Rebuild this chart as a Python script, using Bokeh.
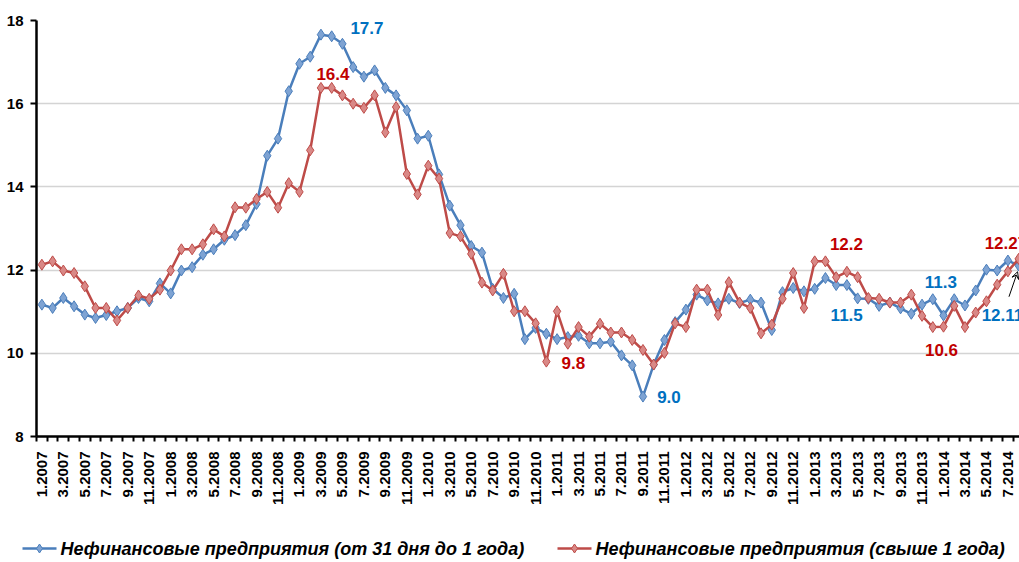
import math
from bokeh.plotting import figure
from bokeh.models import (Range1d, FixedTicker, ColumnDataSource, Arrow, VeeHead)
from bokeh.core.properties import value
from bokeh.embed import file_html
from bokeh.resources import INLINE

# ---------------- data ----------------
months = [f"{m}.{y}" for y in range(2007, 2015) for m in range(1, 13)][:92]

short_term = [
    11.17, 11.09, 11.33, 11.13, 10.93, 10.85, 10.92, 11.01, 11.09, 11.33, 11.25, 11.68,
    11.44, 11.99, 12.07, 12.37, 12.50, 12.73, 12.84, 13.08, 13.59, 14.75, 15.16, 16.30,
    16.96, 17.13, 17.66, 17.62, 17.44, 16.88, 16.65, 16.80, 16.38, 16.20, 15.84, 15.16,
    15.23, 14.30, 13.55, 13.08, 12.58, 12.42, 11.55, 11.33, 11.43, 10.34, 10.61, 10.47,
    10.34, 10.39, 10.42, 10.24, 10.24, 10.28, 9.95, 9.71, 8.96, 9.73, 10.32, 10.75,
    11.05, 11.41, 11.27, 11.20, 11.31, 11.21, 11.29, 11.22, 10.56, 11.47, 11.57, 11.49,
    11.55, 11.81, 11.64, 11.64, 11.32, 11.31, 11.14, 11.22, 11.08, 10.95, 11.17, 11.30,
    10.91, 11.30, 11.15, 11.51, 12.01, 11.99, 12.23, 12.11,
]

long_term = [
    12.13, 12.21, 11.99, 11.93, 11.61, 11.09, 11.09, 10.79, 11.09, 11.39, 11.31, 11.53,
    11.99, 12.50, 12.50, 12.62, 12.98, 12.81, 13.51, 13.50, 13.71, 13.88, 13.50, 14.09,
    13.88, 14.88, 16.38, 16.38, 16.20, 16.00, 15.90, 16.20, 15.31, 15.92, 14.31, 13.82,
    14.51, 14.20, 12.89, 12.81, 12.39, 11.70, 11.51, 11.91, 11.01, 11.01, 10.72, 9.80,
    11.01, 10.23, 10.63, 10.40, 10.71, 10.50, 10.50, 10.32, 10.08, 9.73, 10.01, 10.72,
    10.63, 11.53, 11.53, 10.92, 11.71, 11.22, 11.09, 10.48, 10.69, 11.31, 11.93, 11.09,
    12.21, 12.21, 11.83, 11.96, 11.83, 11.33, 11.31, 11.22, 11.22, 11.41, 10.90, 10.63,
    10.64, 11.14, 10.63, 10.98, 11.25, 11.65, 11.97, 12.27,
]

series_names = ["Нефинансовые предприятия (от 31 дня до 1 года)",
                "Нефинансовые предприятия (свыше 1 года)"]

# data labels: (series, index, text)
label_series = ["short", "long", "long", "short", "long", "short", "short", "long", "long", "short"]
label_index = [26, 26, 47, 56, 73, 72, 83, 84, 91, 91]
label_text = ["17.7", "16.4", "9.8", "9.0", "12.2", "11.5", "11.3", "10.6", "12.27", "12.11"]

# ---------------- styles ----------------
label_dx = [46, 12, 27, 26, 21, 32, 8, -2, -34, -37]
label_dy = [-7, -14, 1, 0, -17, 26, -17, 23, -16, 49]
label_align = ["center"] * 8 + ["left", "left"]

BLUE_LINE, BLUE_FILL, BLUE_TXT = "#4A7EBB", "#7EA3D3", "#0070C0"
RED_LINE, RED_FILL, RED_TXT = "#BE4B48", "#D98886", "#C00000"
FONT = "Liberation Sans"

n = len(months)
xs = list(range(n))

p = figure(frame_width=983, frame_height=416,
           x_range=Range1d(-0.5, n - 0.92), y_range=Range1d(8, 18),
           output_backend="svg", toolbar_location=None,
           min_border_left=36, min_border_right=0, min_border_top=20, min_border_bottom=90)
p.outline_line_color = None
p.background_fill_color = "white"

# grid
p.xgrid.grid_line_color = None
p.ygrid.grid_line_color = "#D4D4D4"
p.ygrid.grid_line_width = 1.6

# y axis
p.yaxis.ticker = FixedTicker(ticks=[8, 10, 12, 14, 16, 18])
p.yaxis.axis_line_color = "black"
p.yaxis.axis_line_width = 2.5
p.yaxis.major_tick_out = 6
p.yaxis.major_tick_in = 0
p.yaxis.major_tick_line_width = 2
p.yaxis.minor_tick_line_color = None
p.yaxis.major_label_text_font = FONT
p.yaxis.major_label_text_font_style = "bold"
p.yaxis.major_label_text_font_size = "15px"
p.yaxis.major_label_text_color = "black"
p.yaxis.major_label_standoff = 7

# x axis
p.xaxis.ticker = FixedTicker(ticks=xs[::2], minor_ticks=[i - 0.5 for i in range(n + 1)])
p.xaxis.major_label_overrides = {i: months[i] for i in xs[::2]}
p.xaxis.major_label_orientation = math.pi / 2
p.xaxis.axis_line_color = "black"
p.xaxis.axis_line_width = 2.5
p.xaxis.major_tick_out = 0
p.xaxis.major_tick_in = 0
p.xaxis.minor_tick_out = 5
p.xaxis.minor_tick_in = 0
p.xaxis.minor_tick_line_width = 2
p.xaxis.minor_tick_line_color = "black"
p.xaxis.major_label_text_font = FONT
p.xaxis.major_label_text_font_style = "bold"
p.xaxis.major_label_text_font_size = "15px"
p.xaxis.major_label_text_color = "black"
p.xaxis.major_label_standoff = 10

# series
src = ColumnDataSource(dict(x=xs, short=short_term, long=long_term))
p.line("x", "short", source=src, line_color=BLUE_LINE, line_width=2.5)
p.scatter("x", "short", source=src, marker="diamond", size=11,
          fill_color=BLUE_FILL, line_color=BLUE_LINE, line_width=1)
p.line("x", "long", source=src, line_color=RED_LINE, line_width=2.5)
p.scatter("x", "long", source=src, marker="diamond", size=11,
          fill_color=RED_FILL, line_color=RED_LINE, line_width=1)

# data labels
series_map = {"short": short_term, "long": long_term}
lab_src = ColumnDataSource(dict(
    x=label_index,
    y=[series_map[s][i] for s, i in zip(label_series, label_index)],
    text=label_text,
    color=[BLUE_TXT if s == "short" else RED_TXT for s in label_series],
    dx=label_dx, dy=label_dy, align=label_align,
))
p.text("x", "y", text="text", source=lab_src, text_color="color",
       x_offset="dx", y_offset="dy", text_align="align", text_baseline="middle",
       text_font=value(FONT), text_font_style="bold", text_font_size="17px")

# leader arrow for last short-term label
p.add_layout(Arrow(end=VeeHead(size=7, line_color="black", line_width=1, fill_color=None),
                   x_start=n - 1.9, y_start=short_term[-1] - 0.75,
                   x_end=n - 1.1, y_end=short_term[-1] - 0.15,
                   line_color="black", line_width=1))

# ---------------- legend strip (separate root figure, pixel-like coordinates) ----------------
LW, LH = 1019, 36
leg = figure(width=LW, height=LH, x_range=Range1d(0, LW), y_range=Range1d(0, LH),
             x_axis_type=None, y_axis_type=None,
             output_backend="svg", toolbar_location=None,
             min_border_left=0, min_border_right=0, min_border_top=0, min_border_bottom=0)
leg.grid.visible = False
leg.outline_line_color = None

sw_x0 = [22, 557]           # swatch starts
sw_w = 34                   # swatch width
yc = 14
leg_src = ColumnDataSource(dict(
    x0=sw_x0, x1=[x + sw_w for x in sw_x0], xm=[x + sw_w / 2 for x in sw_x0],
    xt=[x + sw_w + 4 for x in sw_x0], y=[yc, yc],
    line=[BLUE_LINE, RED_LINE], fill=[BLUE_FILL, RED_FILL], label=series_names,
))
leg.segment("x0", "y", "x1", "y", source=leg_src, line_color="line", line_width=2.5)
leg.scatter("xm", "y", source=leg_src, marker="diamond", size=9,
            fill_color="fill", line_color="line", line_width=1)
leg.text("xt", "y", text="label", source=leg_src, text_align="left", text_baseline="middle",
         text_font=value(FONT), text_font_style="bold italic", text_font_size="18px",
         text_color="black")

open("out.html", "w").write(file_html([p, leg], INLINE))
